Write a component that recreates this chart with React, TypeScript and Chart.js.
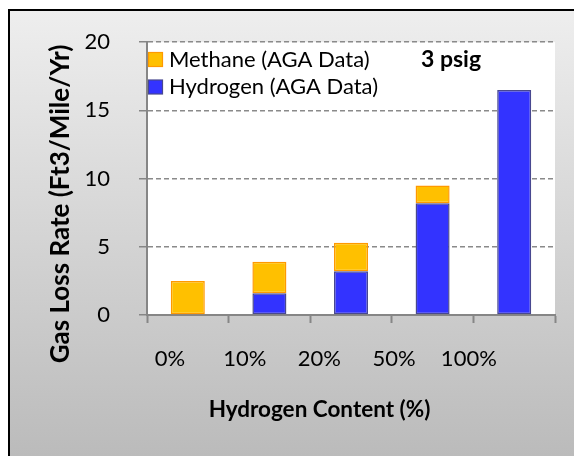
import React, { useEffect, useRef } from "react";
import { Chart, registerables } from "chart.js";

Chart.register(...registerables);

const categories = ["0%", "10%", "20%", "50%", "100%"];
const hydrogen: (number | null)[] = [null, 1.6, 3.2, 8.2, 16.5];
const methane: (number | null)[] = [2.5, 2.3, 2.1, 1.3, null];
const yTicks = [0, 5, 10, 15, 20];
const hydrogenLabel = "Hydrogen (AGA Data)";
const methaneLabel = "Methane (AGA Data)";
const yTitle = "Gas Loss Rate (Ft3/Mile/Yr)";
const xTitle = "Hydrogen Content (%)";
const annotation = "3 psig";

const FONT = "Lato, 'Open Sans', sans-serif";
const METHANE_FILL = "#FFC000";
const METHANE_BORDER = "#FF9900";
const HYDROGEN_FILL = "#3333FF";
const HYDROGEN_BORDER = "#48488F";
const AXIS = "#868686";

const decor = {
  id: "decor",
  beforeDraw(chart: any) {
    const { ctx, chartArea: a } = chart;
    ctx.save();
    ctx.fillStyle = "#ffffff";
    ctx.fillRect(a.left, a.top, a.right - a.left, a.bottom - a.top);
    ctx.restore();
  },
  afterDraw(chart: any) {
    const { ctx, chartArea: a } = chart;
    const w = a.right - a.left;
    ctx.save();
    ctx.fillStyle = "#000000";
    ctx.textBaseline = "middle";
    ctx.textAlign = "center";
    ctx.font = `22px ${FONT}`;
    categories.forEach((c, i) => {
      ctx.fillText(c, a.left + w * (0.0564 + i * 0.1831), a.bottom + 44);
    });
    ctx.font = `bold 22.5px ${FONT}`;
    ctx.fillText(xTitle, 319.5, 410);
    ctx.font = `bold 23px ${FONT}`;
    ctx.fillText(annotation, 451, 60);

    // legend
    const items = [
      { label: methaneLabel, fill: METHANE_FILL, border: METHANE_BORDER, y: 59.5 },
      { label: hydrogenLabel, fill: HYDROGEN_FILL, border: HYDROGEN_BORDER, y: 87 },
    ];
    ctx.textAlign = "left";
    ctx.font = `22px ${FONT}`;
    items.forEach((it) => {
      ctx.fillStyle = it.fill;
      ctx.fillRect(a.left + 1.5, it.y - 7, 14, 14);
      ctx.strokeStyle = it.border;
      ctx.lineWidth = 1.2;
      ctx.strokeRect(a.left + 1.5, it.y - 7, 14, 14);
      ctx.fillStyle = "#000000";
      ctx.fillText(it.label, a.left + 22, it.y);
    });

    // y title
    ctx.translate(61, 204);
    ctx.rotate(-Math.PI / 2);
    ctx.textAlign = "center";
    ctx.font = `bold 26px ${FONT}`;
    ctx.fillText(yTitle, 0, 0);
    ctx.restore();
  },
};

export default function App() {
  const ref = useRef<HTMLCanvasElement>(null);
  useEffect(() => {
    if (!ref.current) return;
    const chart = new Chart(ref.current, {
      type: "bar",
      data: {
        labels: categories,
        datasets: [
          {
            label: hydrogenLabel,
            data: hydrogen,
            backgroundColor: HYDROGEN_FILL,
            borderColor: HYDROGEN_BORDER,
            borderWidth: 1.5,
            borderSkipped: false,
            categoryPercentage: 1,
            barPercentage: 0.417,
          },
          {
            label: methaneLabel,
            data: methane,
            backgroundColor: METHANE_FILL,
            borderColor: METHANE_BORDER,
            borderWidth: 1.5,
            borderSkipped: false,
            categoryPercentage: 1,
            barPercentage: 0.417,
          },
        ],
      },
      options: {
        responsive: false,
        animation: false,
        layout: { padding: { left: 0, top: 39, right: 19, bottom: 0 } },
        plugins: {
          legend: { display: false },
          tooltip: { enabled: false },
          title: { display: false },
        },
        scales: {
          x: {
            stacked: true,
            grid: {
              offset: true,
              drawOnChartArea: false,
              drawTicks: true,
              tickLength: 8,
              tickColor: AXIS,
              tickWidth: 2,
              color: AXIS,
            },
            border: { display: true, color: AXIS, width: 2 },
            ticks: { display: false },
            afterFit: (scale: any) => {
              scale.height = 141;
            },
          },
          y: {
            stacked: true,
            min: 0,
            max: 20,
            afterBuildTicks: (scale: any) => {
              scale.ticks = yTicks.map((v) => ({ value: v }));
            },
            grid: {
              color: "#8a8a8a",
              lineWidth: 1.5,
              drawTicks: true,
              tickLength: 8,
              tickColor: AXIS,
              tickWidth: 1.5,
              tickBorderDash: [],
            },
            border: { display: true, color: AXIS, width: 2, dash: [5, 3] },
            ticks: {
              padding: 29,
              color: "#000000",
              font: { family: FONT, size: 22 },
            },
            afterFit: (scale: any) => {
              scale.width = 147;
            },
          },
        },
      },
      plugins: [decor],
    });
    return () => chart.destroy();
  }, []);

  return (
    <div style={{ position: "fixed", left: 0, top: 0, width: 574, height: 456, background: "#ffffff", overflow: "hidden" }}>
      <div
        style={{
          position: "absolute",
          left: 8,
          top: 9,
          width: 566,
          height: 447,
          boxSizing: "border-box",
          borderLeft: "2px solid #000",
          borderTop: "2px solid #000",
          background: "linear-gradient(#eeeeee, #bbbbbb)",
        }}
      />
      <canvas ref={ref} width={574} height={456} style={{ position: "absolute", left: 0, top: 0, width: 574, height: 456 }} />
    </div>
  );
}
